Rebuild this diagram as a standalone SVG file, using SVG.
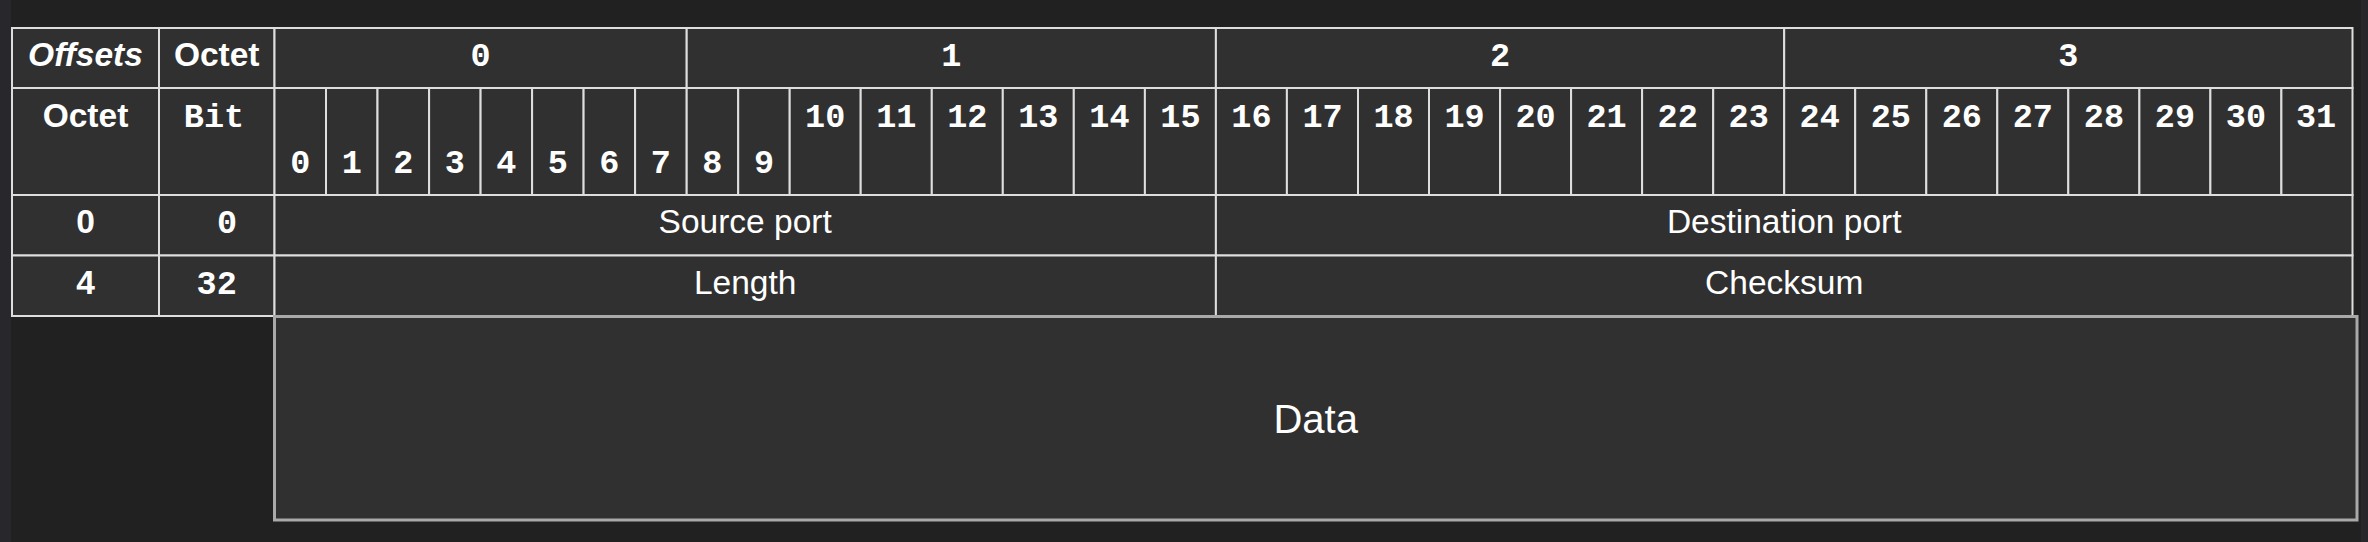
<svg xmlns="http://www.w3.org/2000/svg" width="2368" height="542" viewBox="0 0 2368 542">
<style>
.c{fill:#303030;stroke:#dedede;stroke-width:2}
.s{font-family:"Liberation Sans",Arial,sans-serif;font-size:33.5px;fill:#ffffff;text-anchor:middle}
.b{font-weight:bold}
.i{font-style:italic}
.m{font-family:"Liberation Mono","Courier New",monospace;font-size:33.5px;font-weight:bold;fill:#ffffff;text-anchor:middle}
.d{fill:#303030;stroke:#a9a9a9;stroke-width:3}
</style>
<rect width="2368" height="542" fill="#212121"/>
<rect x="0" y="0" width="11" height="542" fill="#28282c"/>
<rect x="2361" y="0" width="7" height="542" fill="#28282c"/>

<g id="header-row-1">
<g id="h-offsets"><rect class="c" x="12" y="28" width="147" height="60"/><text class="s b i" x="85.5" y="66">Offsets</text></g>
<g id="h-octet"><rect class="c" x="159" y="28" width="115.5" height="60"/><text class="s b" x="216.7" y="66">Octet</text></g>
<g id="h-octet-0"><rect class="c" x="274.5" y="28" width="412.2" height="60"/><text class="m" x="480.6" y="66">0</text></g>
<g id="h-octet-1"><rect class="c" x="686.7" y="28" width="529.2" height="60"/><text class="m" x="951.3" y="66">1</text></g>
<g id="h-octet-2"><rect class="c" x="1215.9" y="28" width="568.3" height="60"/><text class="m" x="1500.1" y="66">2</text></g>
<g id="h-octet-3"><rect class="c" x="1784.2" y="28" width="568.3" height="60"/><text class="m" x="2068.3" y="66">3</text></g>
</g>

<g id="header-row-2">
<g id="h2-octet"><rect class="c" x="12" y="88" width="147" height="107"/><text class="s b" x="85.5" y="127">Octet</text></g>
<g id="h2-bit"><rect class="c" x="159" y="88" width="115.5" height="107"/><text class="m" x="214" y="127">Bit</text></g>
<g id="bit-0"><rect class="c" x="274.5" y="88" width="51.5" height="107"/><text class="m" x="300.3" y="173">0</text></g>
<g id="bit-1"><rect class="c" x="326" y="88" width="51.5" height="107"/><text class="m" x="351.8" y="173">1</text></g>
<g id="bit-2"><rect class="c" x="377.5" y="88" width="51.6" height="107"/><text class="m" x="403.3" y="173">2</text></g>
<g id="bit-3"><rect class="c" x="429.1" y="88" width="51.5" height="107"/><text class="m" x="454.8" y="173">3</text></g>
<g id="bit-4"><rect class="c" x="480.6" y="88" width="51.5" height="107"/><text class="m" x="506.4" y="173">4</text></g>
<g id="bit-5"><rect class="c" x="532.1" y="88" width="51.5" height="107"/><text class="m" x="557.9" y="173">5</text></g>
<g id="bit-6"><rect class="c" x="583.6" y="88" width="51.5" height="107"/><text class="m" x="609.4" y="173">6</text></g>
<g id="bit-7"><rect class="c" x="635.1" y="88" width="51.6" height="107"/><text class="m" x="660.9" y="173">7</text></g>
<g id="bit-8"><rect class="c" x="686.7" y="88" width="51.5" height="107"/><text class="m" x="712.4" y="173">8</text></g>
<g id="bit-9"><rect class="c" x="738.2" y="88" width="51.5" height="107"/><text class="m" x="764" y="173">9</text></g>
<g id="bit-10"><rect class="c" x="789.7" y="88" width="71" height="107"/><text class="m" x="825.2" y="127">10</text></g>
<g id="bit-11"><rect class="c" x="860.7" y="88" width="71.1" height="107"/><text class="m" x="896.3" y="127">11</text></g>
<g id="bit-12"><rect class="c" x="931.8" y="88" width="71" height="107"/><text class="m" x="967.3" y="127">12</text></g>
<g id="bit-13"><rect class="c" x="1002.8" y="88" width="71" height="107"/><text class="m" x="1038.3" y="127">13</text></g>
<g id="bit-14"><rect class="c" x="1073.8" y="88" width="71.1" height="107"/><text class="m" x="1109.4" y="127">14</text></g>
<g id="bit-15"><rect class="c" x="1144.9" y="88" width="71" height="107"/><text class="m" x="1180.4" y="127">15</text></g>
<g id="bit-16"><rect class="c" x="1215.9" y="88" width="71" height="107"/><text class="m" x="1251.4" y="127">16</text></g>
<g id="bit-17"><rect class="c" x="1286.9" y="88" width="71.1" height="107"/><text class="m" x="1322.5" y="127">17</text></g>
<g id="bit-18"><rect class="c" x="1358" y="88" width="71" height="107"/><text class="m" x="1393.5" y="127">18</text></g>
<g id="bit-19"><rect class="c" x="1429" y="88" width="71.1" height="107"/><text class="m" x="1464.5" y="127">19</text></g>
<g id="bit-20"><rect class="c" x="1500.1" y="88" width="71" height="107"/><text class="m" x="1535.6" y="127">20</text></g>
<g id="bit-21"><rect class="c" x="1571.1" y="88" width="71" height="107"/><text class="m" x="1606.6" y="127">21</text></g>
<g id="bit-22"><rect class="c" x="1642.1" y="88" width="71.1" height="107"/><text class="m" x="1677.7" y="127">22</text></g>
<g id="bit-23"><rect class="c" x="1713.2" y="88" width="71" height="107"/><text class="m" x="1748.7" y="127">23</text></g>
<g id="bit-24"><rect class="c" x="1784.2" y="88" width="71" height="107"/><text class="m" x="1819.7" y="127">24</text></g>
<g id="bit-25"><rect class="c" x="1855.2" y="88" width="71.1" height="107"/><text class="m" x="1890.8" y="127">25</text></g>
<g id="bit-26"><rect class="c" x="1926.3" y="88" width="71" height="107"/><text class="m" x="1961.8" y="127">26</text></g>
<g id="bit-27"><rect class="c" x="1997.3" y="88" width="71" height="107"/><text class="m" x="2032.8" y="127">27</text></g>
<g id="bit-28"><rect class="c" x="2068.3" y="88" width="71.1" height="107"/><text class="m" x="2103.9" y="127">28</text></g>
<g id="bit-29"><rect class="c" x="2139.4" y="88" width="71" height="107"/><text class="m" x="2174.9" y="127">29</text></g>
<g id="bit-30"><rect class="c" x="2210.4" y="88" width="71" height="107"/><text class="m" x="2245.9" y="127">30</text></g>
<g id="bit-31"><rect class="c" x="2281.4" y="88" width="71.1" height="107"/><text class="m" x="2316" y="127">31</text></g>
</g>

<g id="row-0">
<g id="r0-octet"><rect class="c" x="12" y="195" width="147" height="60.5"/><text class="s b" x="85.5" y="233">0</text></g>
<g id="r0-bit"><rect class="c" x="159" y="195" width="115.5" height="60.5"/><text class="m" x="227" y="233">0</text></g>
<g id="source-port"><rect class="c" x="274.5" y="195" width="941.4" height="60.5"/><text class="s" x="745.2" y="233">Source port</text></g>
<g id="destination-port"><rect class="c" x="1215.9" y="195" width="1136.6" height="60.5"/><text class="s" x="1784.2" y="233">Destination port</text></g>
</g>

<g id="row-4">
<g id="r4-octet"><rect class="c" x="12" y="255.5" width="147" height="60.5"/><text class="s b" x="85.5" y="294">4</text></g>
<g id="r4-bit"><rect class="c" x="159" y="255.5" width="115.5" height="60.5"/><text class="m" x="216.7" y="294">32</text></g>
<g id="length"><rect class="c" x="274.5" y="255.5" width="941.4" height="60.5"/><text class="s" x="745.2" y="294">Length</text></g>
<g id="checksum"><rect class="c" x="1215.9" y="255.5" width="1136.6" height="60.5"/><text class="s" x="1784.2" y="294">Checksum</text></g>
</g>

<g id="data"><rect class="d" x="274.5" y="316.5" width="2082.5" height="203.5"/><text class="s" style="font-size:40px" x="1315.7" y="432.7">Data</text></g>
</svg>
